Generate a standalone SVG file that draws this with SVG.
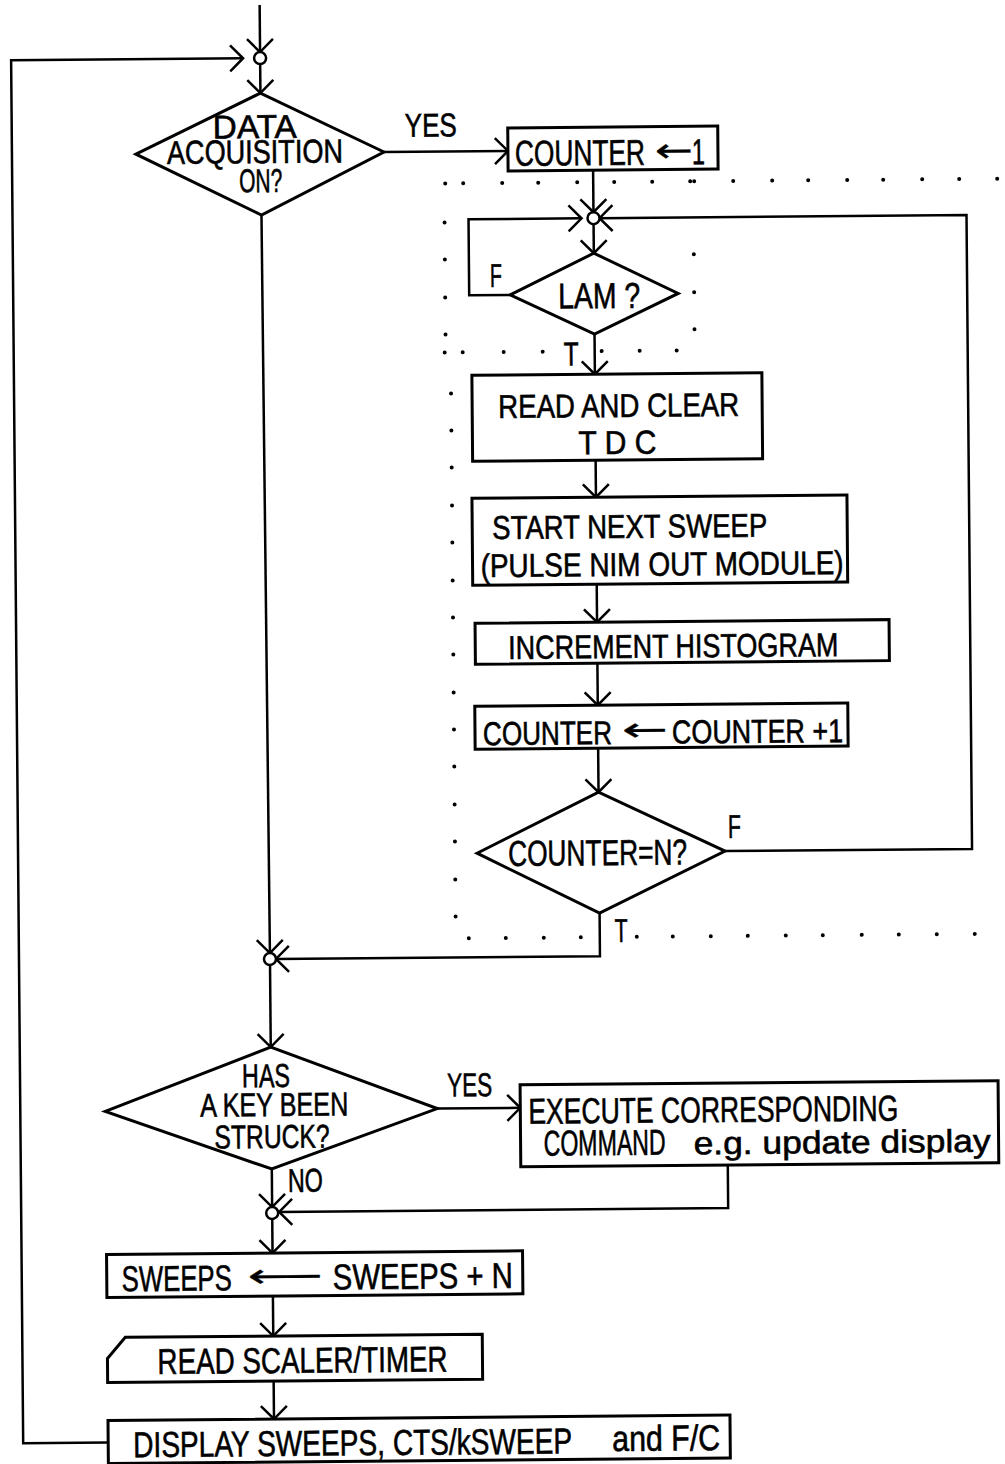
<svg xmlns="http://www.w3.org/2000/svg" width="1005" height="1464" viewBox="0 0 1005 1464">
<style>
.s{fill:#fff;stroke:#000;stroke-width:3}
.c{fill:none;stroke:#000;stroke-width:2.5;marker-end:url(#ah)}
.j{fill:#fff;stroke:#000;stroke-width:2.5}
.d{fill:#000}
text{font-family:"Liberation Sans Narrow","Liberation Sans",Arial,sans-serif;font-size:33px;fill:#000;stroke:#000;stroke-width:0.6}
.ar{font-family:"DejaVu Sans","Liberation Sans",sans-serif;stroke-width:0.3}
.big{font-size:36px}
.lc{font-size:32px}
</style>
<defs>
<marker id="ah" markerUnits="userSpaceOnUse" viewBox="0 0 30 30" markerWidth="30" markerHeight="30" refX="15" refY="15" orient="auto">
<path d="M2,2 L15,15 L2,28" fill="none" stroke="#000" stroke-width="2.5"/>
</marker>
</defs>
<rect x="0" y="0" width="1005" height="1464" fill="#fff"/>
<g transform="rotate(-0.5 502 732)">
<g id="dotted-boundary" class="d">
<circle cx="450" cy="183" r="2"/><circle cx="468" cy="183" r="2"/><circle cx="507" cy="183" r="2"/><circle cx="543" cy="183" r="2"/><circle cx="582" cy="183" r="2"/><circle cx="619" cy="183" r="2"/><circle cx="657" cy="183" r="2"/><circle cx="695" cy="183" r="2"/><circle cx="699" cy="183" r="2"/><circle cx="738" cy="183" r="2"/><circle cx="777" cy="183" r="2"/><circle cx="813" cy="183" r="2"/><circle cx="852" cy="183" r="2"/><circle cx="888" cy="183" r="2"/><circle cx="927" cy="183" r="2"/><circle cx="964" cy="183" r="2"/><circle cx="1002" cy="183" r="2"/>
<circle cx="449" cy="222" r="2"/><circle cx="449" cy="259" r="2"/><circle cx="449" cy="297" r="2"/><circle cx="449" cy="334" r="2"/>
<circle cx="448" cy="352" r="2"/><circle cx="466" cy="352" r="2"/><circle cx="507" cy="352" r="2"/><circle cx="546" cy="352" r="2"/><circle cx="605" cy="352" r="2"/><circle cx="643" cy="352" r="2"/><circle cx="680" cy="352" r="2"/>
<circle cx="698" cy="256" r="2"/><circle cx="698" cy="294" r="2"/><circle cx="698" cy="331" r="2"/>
<circle cx="454" cy="393" r="2"/><circle cx="454" cy="430" r="2"/><circle cx="454" cy="467" r="2"/><circle cx="454" cy="505" r="2"/><circle cx="454" cy="542" r="2"/><circle cx="454" cy="580" r="2"/><circle cx="454" cy="617" r="2"/><circle cx="454" cy="654" r="2"/><circle cx="454" cy="692" r="2"/><circle cx="454" cy="729" r="2"/><circle cx="454" cy="766" r="2"/><circle cx="454" cy="804" r="2"/><circle cx="454" cy="841" r="2"/><circle cx="454" cy="879" r="2"/><circle cx="454" cy="916" r="2"/>
<circle cx="467" cy="938" r="2"/><circle cx="504" cy="938" r="2"/><circle cx="542" cy="938" r="2"/><circle cx="579" cy="938" r="2"/><circle cx="635" cy="938" r="2"/><circle cx="671" cy="938" r="2"/><circle cx="709" cy="938" r="2"/><circle cx="746" cy="938" r="2"/><circle cx="784" cy="938" r="2"/><circle cx="821" cy="938" r="2"/><circle cx="860" cy="938" r="2"/><circle cx="897" cy="938" r="2"/><circle cx="935" cy="938" r="2"/><circle cx="973" cy="938" r="2"/>
</g>
<g id="connectors">
<path class="c" d="M266,3 L266,50"/>
<path class="c" d="M102,1439 L17,1439 L17,56 L249,56"/>
<path class="c" d="M266,62 L266,91"/>
<path class="c" d="M389,151 L513,151"/>
<path class="c" d="M266,213 L268,951"/>
<path class="c" d="M598,171 L598,213"/>
<path class="c" d="M598,225 L598,254"/>
<path class="c" d="M514,295 L473,295 L473,219 L586,219"/>
<path class="c" d="M598,335 L598,375"/>
<path class="c" d="M598,461 L598,498"/>
<path class="c" d="M598,585 L598,623"/>
<path class="c" d="M598,664 L598,706"/>
<path class="c" d="M598,749 L598,793"/>
<path class="c" d="M724,853 L971,853 L971,219 L604,219"/>
<path class="c" d="M598,914 L598,957 L274,957"/>
<path class="c" d="M268,963 L268,1045"/>
<path class="c" d="M434,1108 L517,1108"/>
<path class="c" d="M268,1167 L268,1205"/>
<path class="c" d="M724,1167 L724,1210 L275,1210"/>
<path class="c" d="M268,1217 L268,1251"/>
<path class="c" d="M268,1294 L268,1334"/>
<path class="c" d="M268,1379 L268,1417"/>
<text x="410" y="136" textLength="52" lengthAdjust="spacingAndGlyphs">YES</text>
<text x="494" y="287" textLength="12" lengthAdjust="spacingAndGlyphs">F</text>
<text x="567" y="366" textLength="15" lengthAdjust="spacingAndGlyphs">T</text>
<text x="727" y="840" textLength="13" lengthAdjust="spacingAndGlyphs">F</text>
<text x="613" y="943" textLength="13" lengthAdjust="spacingAndGlyphs">T</text>
<text x="444" y="1096" textLength="45" lengthAdjust="spacingAndGlyphs">YES</text>
<text x="284" y="1190" textLength="35" lengthAdjust="spacingAndGlyphs">NO</text>
</g>
<g id="j1"><circle class="j" cx="266" cy="56" r="6"/></g>
<g id="acq">
<polygon class="s" points="141,151 266,91 389,151 266,213"/>
<text x="218" y="136" textLength="84" lengthAdjust="spacingAndGlyphs">DATA</text>
<text x="172" y="161" textLength="176" lengthAdjust="spacingAndGlyphs">ACQUISITION</text>
<text x="244" y="190" textLength="43" lengthAdjust="spacingAndGlyphs">ON?</text>
</g>
<g id="counter1">
<rect class="s" x="513" y="128" width="210" height="43"/>
<text x="520" y="166" textLength="130" lengthAdjust="spacingAndGlyphs" class="big">COUNTER</text>
<text x="660" y="163" textLength="38" lengthAdjust="spacingAndGlyphs" class="ar">←</text>
<text x="697" y="166" textLength="13" lengthAdjust="spacingAndGlyphs" class="big">1</text>
</g>
<g id="j3"><circle class="j" cx="598" cy="219" r="6"/></g>
<g id="lam">
<polygon class="s" points="514,295 598,254 682,295 598,335"/>
<text x="562" y="309" textLength="82" lengthAdjust="spacingAndGlyphs" class="big">LAM ?</text>
</g>
<g id="readclear">
<rect class="s" x="475" y="375" width="290" height="86"/>
<text x="501" y="418" textLength="241" lengthAdjust="spacingAndGlyphs">READ AND CLEAR</text>
<text x="581" y="455" textLength="78" lengthAdjust="spacingAndGlyphs">T D C</text>
</g>
<g id="startsweep">
<rect class="s" x="474" y="498" width="375" height="87"/>
<text x="494" y="539" textLength="275" lengthAdjust="spacingAndGlyphs">START NEXT SWEEP</text>
<text x="482" y="577" textLength="363" lengthAdjust="spacingAndGlyphs">(PULSE NIM OUT MODULE)</text>
</g>
<g id="increment">
<rect class="s" x="476" y="623" width="414" height="41"/>
<text x="509" y="659" textLength="330" lengthAdjust="spacingAndGlyphs">INCREMENT HISTOGRAM</text>
</g>
<g id="counterinc">
<rect class="s" x="475" y="706" width="373" height="43"/>
<text x="483" y="745" textLength="129" lengthAdjust="spacingAndGlyphs">COUNTER</text>
<text x="622" y="742" textLength="46" lengthAdjust="spacingAndGlyphs" class="ar">←</text>
<text x="672" y="745" textLength="171" lengthAdjust="spacingAndGlyphs">COUNTER +1</text>
</g>
<g id="countern">
<polygon class="s" points="476,853 598,793 724,853 598,914"/>
<text x="507" y="866" textLength="179" lengthAdjust="spacingAndGlyphs" class="big">COUNTER=N?</text>
</g>
<g id="j2"><circle class="j" cx="268" cy="957" r="6"/></g>
<g id="key">
<polygon class="s" points="102,1108 268,1045 434,1108 268,1167"/>
<text x="239" y="1085" textLength="48" lengthAdjust="spacingAndGlyphs">HAS</text>
<text x="197" y="1114" textLength="148" lengthAdjust="spacingAndGlyphs">A KEY BEEN</text>
<text x="211" y="1146" textLength="115" lengthAdjust="spacingAndGlyphs">STRUCK?</text>
</g>
<g id="execute">
<rect class="s" x="517" y="1085" width="478" height="82"/>
<text x="525" y="1124" textLength="370" lengthAdjust="spacingAndGlyphs" class="big">EXECUTE CORRESPONDING</text>
<text x="540" y="1156" textLength="122" lengthAdjust="spacingAndGlyphs" class="big">COMMAND</text>
<text x="690" y="1156" textLength="297" lengthAdjust="spacingAndGlyphs" class="lc">e.g. update display</text>
</g>
<g id="j4"><circle class="j" cx="268" cy="1211" r="6"/></g>
<g id="sweeps">
<rect class="s" x="102" y="1251" width="416" height="43"/>
<text x="117" y="1288" textLength="110" lengthAdjust="spacingAndGlyphs" class="big">SWEEPS</text>
<text x="243" y="1285" textLength="75" lengthAdjust="spacingAndGlyphs" class="ar">⟵</text>
<text x="328" y="1288" textLength="180" lengthAdjust="spacingAndGlyphs" class="big">SWEEPS + N</text>
</g>
<g id="scaler">
<path class="s" d="M120,1334 L477,1334 L477,1379 L102,1379 L102,1355 Z"/>
<text x="152" y="1371" textLength="290" lengthAdjust="spacingAndGlyphs" class="big">READ SCALER/TIMER</text>
</g>
<g id="display">
<rect class="s" x="102" y="1417" width="622" height="43"/>
<text x="127" y="1454" textLength="439" lengthAdjust="spacingAndGlyphs" class="big">DISPLAY SWEEPS, CTS/kSWEEP</text>
<text x="606" y="1452" textLength="108" lengthAdjust="spacingAndGlyphs" class="big">and F/C</text>
</g>
</g>
</svg>
